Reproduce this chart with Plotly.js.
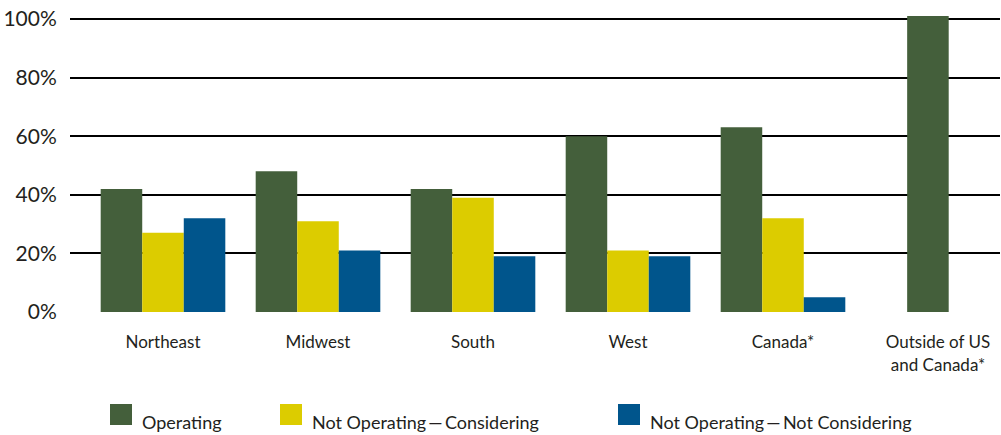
<!DOCTYPE html>
<html>
<head>
<meta charset="utf-8">
<script src="https://cdn.plot.ly/plotly-3.0.1.min.js"></script>
<style>html,body{margin:0;padding:0;background:#fff;}#chart{width:1001px;height:435px;}</style>
</head>
<body>
<div id="chart"></div>
<script>
// ---- data ----
const categories = ['Northeast', 'Midwest', 'South', 'West', 'Canada*', 'Outside of US<br>and Canada*'];
const operating = [42, 48, 42, 60, 63, 101];
const notOperatingConsidering = [27, 31, 39, 21, 32, null];
const notOperatingNotConsidering = [32, 21, 19, 19, 5, null];
const seriesNames = ['Operating', 'Not Operating\u2009\u2014\u2009Considering', 'Not Operating\u2009\u2014\u2009Not Considering'];
const yTickValues = [0, 20, 40, 60, 80, 100];

// ---- style ----
const colors = ['#445F3B', '#DCCC00', '#00558C'];
const W = 1001, H = 435;
const M = {l: 70, r: 1, t: 16, b: 123};
const bw = 0.268;
const fontFam = 'Lato, "Noto Sans", sans-serif';
const textColor = '#231f20';

// single bar (no companions) sits near the middle of its category
const opOffsets = operating.map((v, i) =>
  (notOperatingConsidering[i] == null && notOperatingNotConsidering[i] == null) ? -bw / 2 - 0.065 : -1.5 * bw);

const traces = [
  {type: 'bar', name: seriesNames[0], x: categories, y: operating, width: bw, offset: opOffsets,
   marker: {color: colors[0]}, cliponaxis: false},
  {type: 'bar', name: seriesNames[1], x: categories, y: notOperatingConsidering, width: bw, offset: -0.5 * bw,
   marker: {color: colors[1]}, cliponaxis: false},
  {type: 'bar', name: seriesNames[2], x: categories, y: notOperatingNotConsidering, width: bw, offset: 0.5 * bw,
   marker: {color: colors[2]}, cliponaxis: false}
];

// custom legend (large swatches)
const plotW = W - M.l - M.r, plotH = H - M.t - M.b;
const px2x = p => (p - M.l) / plotW;
const py2y = p => (H - M.b - p) / plotH;
const legendSwatchLeft = [110, 280, 618];
const shapes = [], annotations = [];
seriesNames.forEach((n, i) => {
  shapes.push({type: 'rect', xref: 'paper', yref: 'paper', layer: 'above',
    x0: px2x(legendSwatchLeft[i]), x1: px2x(legendSwatchLeft[i] + 22),
    y0: py2y(425), y1: py2y(404), fillcolor: colors[i], line: {width: 0}});
  annotations.push({xref: 'paper', yref: 'paper', x: px2x(legendSwatchLeft[i] + 30), y: py2y(422),
    xanchor: 'left', yanchor: 'middle', showarrow: false, text: n,
    font: {family: fontFam, size: 18, color: textColor}});
});

const layout = {
  width: W, height: H, autosize: false,
  margin: M,
  paper_bgcolor: '#fff', plot_bgcolor: '#fff',
  barmode: 'overlay',
  showlegend: false,
  font: {family: fontFam, color: textColor},
  xaxis: {
    type: 'category', range: [-0.6, 5.4], showgrid: false, zeroline: false, showline: false,
    ticks: 'outside', ticklen: 15, tickcolor: 'rgba(0,0,0,0)',
    tickfont: {family: fontFam, size: 17, color: textColor}, fixedrange: true
  },
  yaxis: {
    range: [0, 101], tickvals: yTickValues, ticktext: yTickValues.map(v => v + '%'),
    showgrid: true, gridcolor: '#000', gridwidth: 2, zeroline: false, showline: false,
    ticks: 'outside', ticklen: 8, tickcolor: 'rgba(0,0,0,0)',
    tickfont: {family: fontFam, size: 21, color: textColor}, fixedrange: true
  },
  shapes: shapes,
  annotations: annotations
};

Plotly.newPlot('chart', traces, layout, {displayModeBar: false, staticPlot: true});
</script>
</body>
</html>
